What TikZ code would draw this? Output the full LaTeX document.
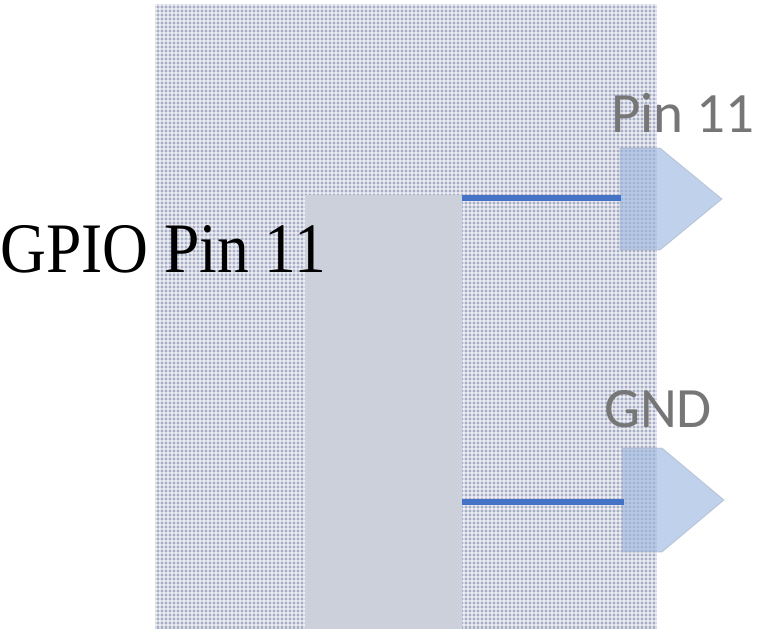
\documentclass[tikz,border=0pt]{standalone}
\usepackage{fontspec}
\setmainfont{Liberation Serif}
\newfontfamily\calib{Carlito}
\definecolor{patbg}{HTML}{A7AFC6}
\definecolor{inner}{HTML}{CBD0DB}
\definecolor{wire}{HTML}{4472C4}
\definecolor{pinfill}{HTML}{9DB8E0}
\definecolor{lblgray}{HTML}{767676}
\tikzset{
  pinshape/.style={fill=pinfill, fill opacity=0.65, draw=gray!70, draw opacity=0.5, line width=0.8pt},
  wireline/.style={draw=wire, line width=5.5pt},
  pinlabel/.style={font=\calib\fontsize{57}{60}\selectfont, text=lblgray, inner sep=0pt}
}
\begin{document}
\begin{tikzpicture}[x=1pt,y=-1pt]
\useasboundingbox (0,0) rectangle (761,629);
% patterned board
\fill[patbg] (155,4) rectangle (657,629);
\foreach \i in {0,...,125} {
  \draw[white, opacity=0.55, line width=1.1pt] ({156+4*\i},4) -- ({156+4*\i},629);
}
\foreach \j in {0,...,155} {
  \draw[white, opacity=0.55, line width=1.1pt] (155,{5+4*\j}) -- (657,{5+4*\j});
}
% inner block
\fill[inner] (305,195) rectangle (462,629);
\coordinate (w1s) at (462,198);
\coordinate (w1e) at (621,198);
\coordinate (w2s) at (462,502);
\coordinate (w2e) at (624,502);
% pins
\path[pinshape] (620,148) -- (660,148) -- (722,199) -- (660,250) -- (620,250) -- cycle;
\path[pinshape] (622,448) -- (662,448) -- (724,500) -- (662,552) -- (622,552) -- cycle;
\draw[wireline] (w1s) -- (w1e);
\draw[wireline] (w2s) -- (w2e);
% labels
\node[pinlabel, anchor=base] (l1) at (683,132) {Pin 11};
\node[pinlabel, anchor=base] (l2) at (658,427) {GND};
\node[anchor=base west, inner sep=0pt, font=\fontsize{71}{75}\selectfont, xscale=0.895] (gp) at (0,272) {GPIO Pin 11};
\end{tikzpicture}
\end{document}
